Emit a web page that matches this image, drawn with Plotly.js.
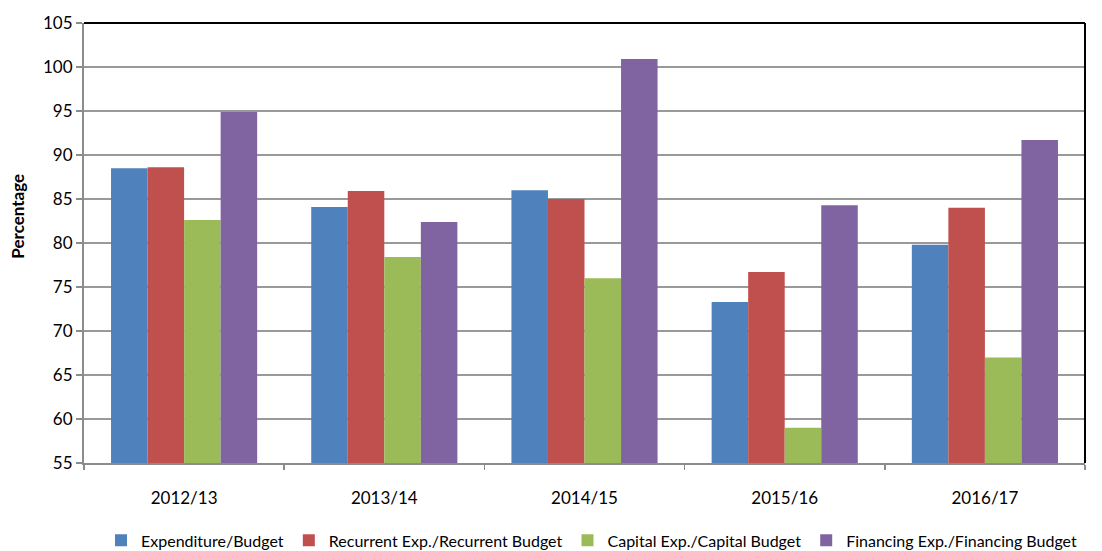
<!DOCTYPE html>
<html>
<head>
<meta charset="utf-8">
<script src="https://cdn.plot.ly/plotly-3.0.1.min.js"></script>
<style>html,body{margin:0;padding:0;background:#fff;}#chart{width:1102px;height:551px;}</style>
</head>
<body>
<div id="chart"></div>
<script>
var categories = ["2012/13", "2013/14", "2014/15", "2015/16", "2016/17"];
var expenditureBudget = [88.5, 84.1, 86.0, 73.3, 79.8];
var recurrentBudget = [88.6, 85.9, 85.0, 76.7, 84.0];
var capitalBudget = [82.6, 78.4, 76.0, 59.0, 67.0];
var financingBudget = [94.9, 82.4, 100.9, 84.3, 91.7];
var seriesNames = ["Expenditure/Budget", "Recurrent Exp./Recurrent Budget", "Capital Exp./Capital Budget", "Financing Exp./Financing Budget"];
var seriesColors = ["#4F81BD", "#C0504D", "#9BBB59", "#8064A2"];
var yTicks = [55, 60, 65, 70, 75, 80, 85, 90, 95, 100, 105];
var yTitle = "Percentage";

var allValues = [expenditureBudget, recurrentBudget, capitalBudget, financingBudget];
var traces = allValues.map(function (vals, i) {
  return {
    type: "bar",
    x: categories,
    y: vals.map(function (v) { return v - 55; }),
    base: 55,
    name: seriesNames[i],
    marker: { color: seriesColors[i], line: { width: 0 } },
    hoverinfo: "x+name"
  };
});

var font = "Lato, 'Open Sans', sans-serif";
var layout = {
  width: 1102,
  height: 551,
  margin: { l: 84, r: 17, t: 23, b: 88, autoexpand: false },
  paper_bgcolor: "#ffffff",
  plot_bgcolor: "#ffffff",
  barmode: "group",
  bargap: 0.27,
  bargroupgap: 0,
  font: { family: font, color: "#000000", size: 17 },
  showlegend: true,
  legend: {
    orientation: "h",
    x: 0.507, xanchor: "center",
    y: -0.176, yanchor: "middle",
    font: { family: font, size: 16, color: "#000" },
    itemwidth: 30,
    traceorder: "normal"
  },
  xaxis: {
    type: "category",
    tickson: "boundaries",
    ticks: "outside",
    ticklen: 5,
    tickcolor: "#8c8c8c",
    tickwidth: 1.5,
    showline: true,
    linecolor: "#8c8c8c",
    linewidth: 2,
    showgrid: false,
    ticklabelstandoff: 19,
    tickfont: { family: font, size: 17, color: "#000" }
  },
  yaxis: {
    range: [55, 105],
    tickvals: yTicks,
    ticktext: yTicks.map(String),
    ticks: "outside",
    ticklen: 6,
    tickcolor: "#8c8c8c",
    tickwidth: 1.5,
    showline: true,
    linecolor: "#8c8c8c",
    linewidth: 2,
    showgrid: true,
    gridcolor: "#999999",
    gridwidth: 1.5,
    zeroline: false,
    tickfont: { family: font, size: 17, color: "#000" }
  },
  annotations: [
    { text: "<b>" + yTitle + "</b>", xref: "paper", yref: "paper", x: -0.066, y: 0.562,
      xanchor: "center", yanchor: "middle", textangle: -90, showarrow: false,
      font: { family: font, size: 17, color: "#000" } }
  ],
  shapes: [
    { type: "line", xref: "paper", yref: "paper", x0: 0, x1: 1, y0: 1, y1: 1, line: { color: "#000", width: 2 } },
    { type: "line", xref: "paper", yref: "paper", x0: 1, x1: 1, y0: 0, y1: 1, line: { color: "#000", width: 2 } }
  ]
};

Plotly.newPlot("chart", traces, layout, { displayModeBar: false, staticPlot: true });
</script>
</body>
</html>
